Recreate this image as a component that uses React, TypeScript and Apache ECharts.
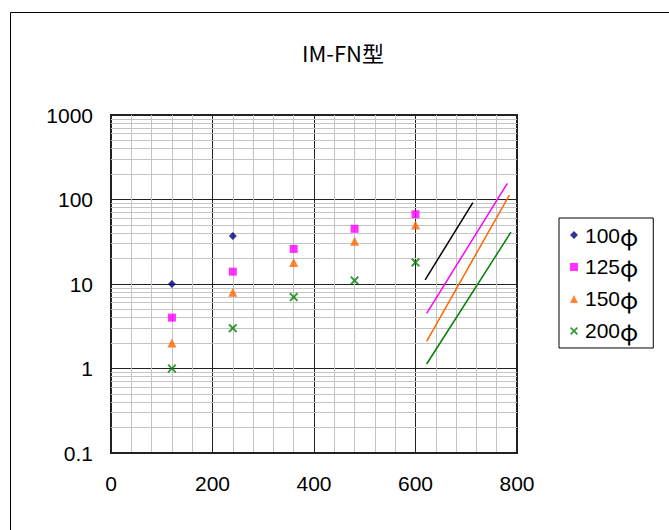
import React, { useEffect, useRef } from "react";
import * as echarts from "echarts";

const xPositions = [120, 240, 360, 480, 600];
const names = ["100φ", "125φ", "150φ", "200φ"];
const s100 = [10, 37];
const s125 = [4, 14, 26, 45, 67];
const s150 = [2, 8, 18, 32, 50];
const s200 = [1, 3, 7, 11, 18];

const line100 = [[619, 11.2], [713, 92]];
const line125 = [[622, 4.5], [781, 155]];
const line150 = [[622, 2.1], [785, 113]];
const line200 = [[622, 1.13], [788, 41]];

const xTicks = [0, 200, 400, 600, 800];
const yTicks = [0.1, 1, 10, 100, 1000];

const colors = ["#000080", "#FF00FF", "#FF6600", "#008000"];
const crossPath =
  "path://M0,1.5L1.5,0L5,3.5L8.5,0L10,1.5L6.5,5L10,8.5L8.5,10L5,6.5L1.5,10L0,8.5L3.5,5Z";

const minorY: number[] = [];
for (let d = -1; d <= 2; d++) {
  for (let k = 2; k <= 9; k++) minorY.push(+(k * Math.pow(10, d)).toPrecision(3));
}

export default function App() {
  const ref = useRef<HTMLDivElement>(null);
  useEffect(() => {
    document.body.style.margin = "0";
    const chart = echarts.init(ref.current!, null, { renderer: "svg" });
    const pair = (arr: number[]) => arr.map((v, i) => [xPositions[i], v]);
    const symbols = ["diamond", "rect", "triangle", crossPath];
    const sizes = [8, 8, 9, 9];
    const seriesData = [s100, s125, s150, s200];
    const scatter = seriesData.map((d, i) => ({
      name: names[i],
      type: "scatter",
      data: pair(d),
      symbol: symbols[i],
      symbolSize: sizes[i],
      itemStyle: { color: colors[i] },
      z: 11,
    }));
    const lines = [line100, line125, line150, line200].map((d, i) => ({
      type: "line",
      data: d,
      showSymbol: false,
      symbol: "none",
      lineStyle: { color: i === 0 ? "#000000" : colors[i], width: 1.5 },
      z: 10,
    }));
    const gridSeries = {
      type: "line",
      data: [],
      silent: true,
      z: 1,
      markLine: {
        silent: true,
        symbol: "none",
        z: 1,
        label: { show: false },
        animation: false,
        lineStyle: { color: "#c4c4c4", width: 1, type: "solid" },
        data: minorY.map((v) => ({ yAxis: v })),
      },
    };
    chart.setOption({
      animation: false,
      title: {
        text: "IM-FN型",
        left: 297,
        top: 36,
        textStyle: {
          fontFamily: "Noto Sans CJK JP",
          fontSize: 22,
          fontWeight: "normal",
          color: "#000",
        },
      },
      graphic: [
        {
          type: "rect",
          shape: { x: 10.5, y: 12.5, width: 700, height: 600 },
          style: { fill: "none", stroke: "#000", lineWidth: 1 },
          silent: true,
        },
      ],
      grid: {
        left: 111,
        top: 115,
        width: 406,
        height: 338,
        show: true,
        borderColor: "#222",
        borderWidth: 2,
      },
      xAxis: {
        type: "value",
        min: 0,
        max: 800,
        interval: 200,
        axisLine: { show: true, lineStyle: { color: "#222", width: 2 } },
        axisTick: { show: false },
        axisLabel: {
          fontFamily: "Liberation Sans",
          fontSize: 21,
          color: "#000",
          margin: 20,
          formatter: (v: number) => (xTicks.includes(v) ? String(v) : ""),
        },
        splitLine: { show: true, lineStyle: { color: "#222", width: 1 } },
        minorTick: { show: false, splitNumber: 5 },
        minorSplitLine: { show: true, lineStyle: { color: "#c4c4c4", width: 1 } },
      },
      yAxis: {
        type: "log",
        logBase: 10,
        min: 0.1,
        max: 1000,
        axisLine: { show: true, lineStyle: { color: "#222", width: 2 } },
        axisTick: { show: false },
        axisLabel: {
          fontFamily: "Liberation Sans",
          fontSize: 21,
          color: "#000",
          margin: 18,
          formatter: (v: number) => {
            const m = yTicks.find((t) => Math.abs(t - v) / t < 1e-6);
            return m !== undefined ? String(m) : "";
          },
        },
        splitLine: { show: true, lineStyle: { color: "#222", width: 1 } },
      },
      legend: {
        data: names.map((n, i) => ({
          name: n,
          icon: i === 0 ? "diamond" : i === 1 ? "rect" : i === 2 ? "triangle" : crossPath,
        })),
        orient: "vertical",
        left: 559,
        top: 218,
        padding: [5, 15, 5, 11],
        itemGap: 8,
        itemWidth: 8,
        itemHeight: 8,
        borderColor: "#000",
        borderWidth: 1,
        formatter: (n: string) => `{a|${n.slice(0, 3)}}{b|${n.slice(3)}}`,
        textStyle: {
          rich: {
            a: { fontFamily: "Liberation Sans", fontSize: 21, color: "#000" },
            b: { fontFamily: "Noto Sans CJK JP", fontSize: 24, color: "#000" },
          },
          padding: [0, 0, 0, 2],
        },
      },
      series: [gridSeries, ...lines, ...scatter],
    });
    return () => chart.dispose();
  }, []);
  return <div ref={ref} style={{ width: 669, height: 530 }} />;
}
